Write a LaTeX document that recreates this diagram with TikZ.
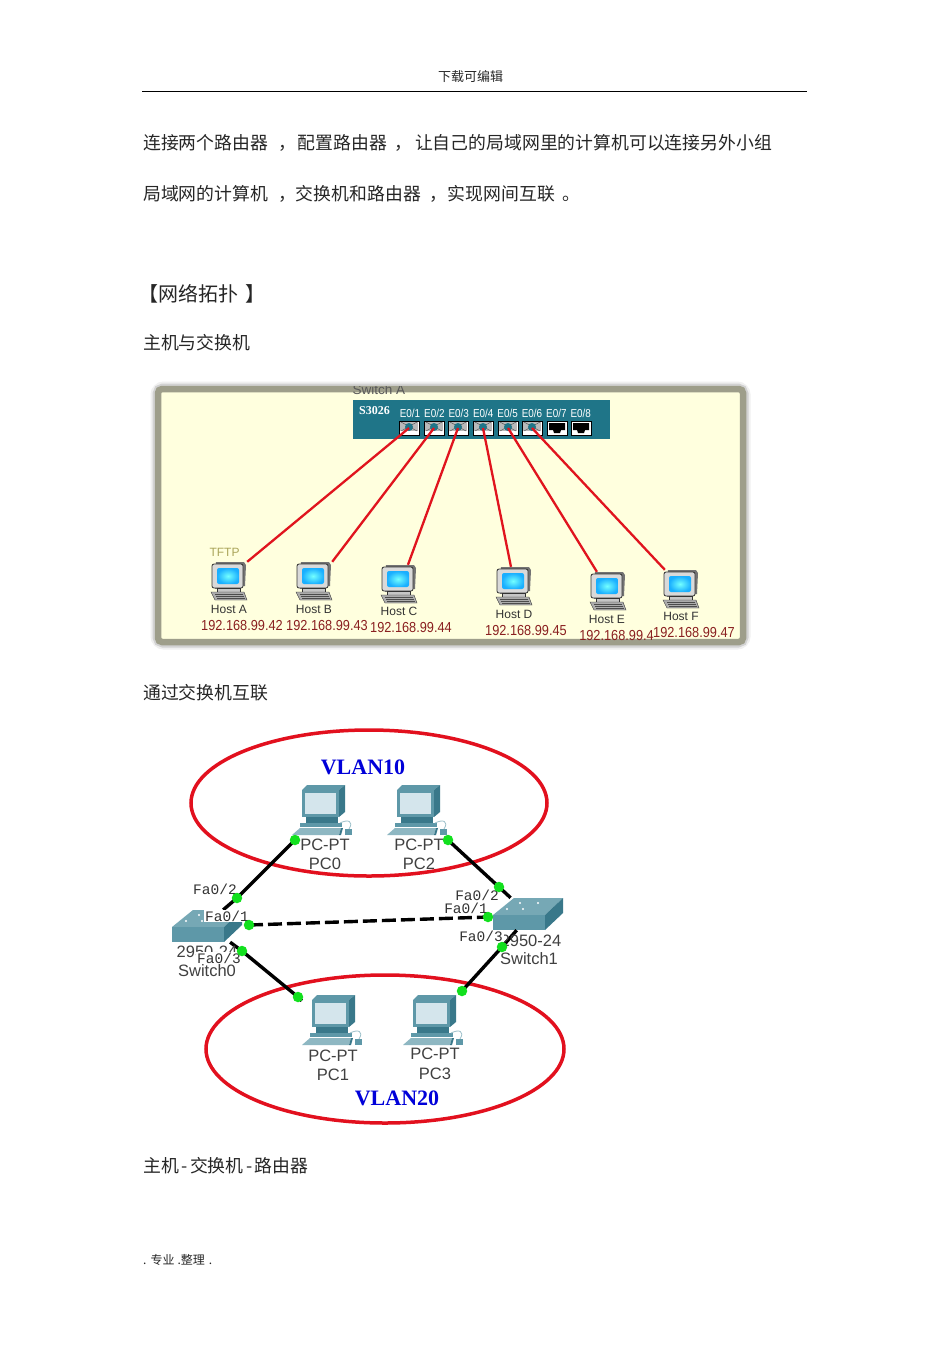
\documentclass[tikz,border=0pt]{standalone}
\usepackage{fontspec}
\setmainfont{Liberation Sans}
\newfontfamily\cjk{Noto Sans CJK SC}
\newfontfamily\labelmono{Liberation Mono}
\newfontfamily\vlanserif{Liberation Serif}
\usetikzlibrary{shapes.geometric}
\definecolor{ringRed}{HTML}{E2101E}
\definecolor{linkRed}{HTML}{E0141E}
\definecolor{lampGreen}{HTML}{12E01E}
\definecolor{switchTeal}{HTML}{1F7588}
\definecolor{ipRed}{HTML}{8A2020}
\definecolor{paleYellow}{HTML}{FFFFDE}
\definecolor{ptTeal}{HTML}{5E98A8}
\definecolor{ptDark}{HTML}{39788A}
\definecolor{ptLight}{HTML}{D4E5EC}
\tikzstyle{myBody} = [anchor=west, inner sep=0pt, font=\cjk\fontsize{17.85}{18}\selectfont, text=black!85]
\tikzstyle{myPort} = [rectangle, draw=black, fill=white, minimum width=20pt, minimum height=14pt, inner sep=0pt]
\tikzstyle{myPortLabel} = [inner sep=0pt, text=white, transform shape, xscale=.86, font=\fontsize{11.5}{12}\selectfont]
\tikzstyle{myHostBox} = [rectangle, minimum width=36pt, minimum height=38pt, inner sep=0pt]
\tikzstyle{myHostName} = [inner sep=0pt, text=black!80, font=\fontsize{12}{12}\selectfont]
\tikzstyle{myIp} = [inner sep=0pt, text=ipRed, transform shape, xscale=.88, font=\fontsize{14.5}{15}\selectfont]
\tikzstyle{myLink} = [linkRed, line width=2.3pt]
\tikzstyle{myRing} = [ellipse, draw=ringRed, line width=3.5pt, inner sep=0pt]
\tikzstyle{myVlan} = [inner sep=0pt, text=blue!85!black, font=\vlanserif\bfseries\fontsize{22}{22}\selectfont]
\tikzstyle{myPcBox} = [rectangle, minimum width=62pt, minimum height=52pt, inner sep=0pt]
\tikzstyle{myPcText} = [inner sep=0pt, text=black!75, font=\fontsize{16.5}{17}\selectfont]
\tikzstyle{myTag} = [inner sep=1pt, text=black!80, font=\labelmono\fontsize{14.5}{15}\selectfont]
\tikzstyle{myLamp} = [circle, fill=lampGreen, minimum size=10.5pt, inner sep=0pt]
\tikzstyle{myCable} = [black, line width=3.4pt]
\newcommand{\usedport}[2]{
	\node [myPort](#1) at (#2,428){};
	\fill [gray!55] (#2-9,422) rectangle (#2+9,431);
	\draw [black!70] (#2-8,422) -- (#2+8,431) (#2-8,431) -- (#2+8,422);
	\fill [switchTeal] (#2,427) circle (4pt);
}
\newcommand{\freeport}[2]{
	\node [myPort](#1) at (#2,428){};
	\fill [black] (#2-8,423) -- (#2+8,423) -- (#2+8,430) -- (#2+4,430) -- (#2+3,433) -- (#2-3,433) -- (#2-4,430) -- (#2-8,430) -- cycle;
}
\newcommand{\hostpc}[3]{
	\node [myHostBox](#1) at (#2,#3){};
	\begin{scope}[shift={(#2,#3)}]
		\fill [black!55] (-13,-19) -- (15,-19) -- (17,-16) -- (16,5) -- (-14,8) -- cycle;
		\draw [black!80, fill=gray!30, rounded corners=2pt, line width=.8pt] (-17,-17) rectangle (14,7);
		\shade [inner color=cyan!55, outer color=blue!35!cyan!90, rounded corners=2pt] (-12,-13) rectangle (10,3);
		\draw [black!80, fill=gray!45] (-12,7) rectangle (11,11);
		\draw [black!80, fill=gray!65] (-18,11) -- (15,11) -- (18,19) -- (-14,19) -- cycle;
		\draw [black!70] (-14,13) -- (14,13) (-13,15) -- (15,15) (-12,17) -- (16,17);
	\end{scope}
}
\newcommand{\ptpc}[3]{
	\node [myPcBox](#1) at (#2,#3){};
	\begin{scope}[shift={(#2-31,#3-26)}]
		\fill [ptTeal] (10,5) -- (15,0) -- (53,0) -- (47,5) -- cycle;
		\fill [ptDark] (47,5) -- (53,0) -- (53,27) -- (47,32) -- cycle;
		\fill [ptTeal] (10,5) rectangle (47,32);
		\fill [ptLight] (13,8) rectangle (44,29);
		\fill [ptDark] (14,32) rectangle (46,38);
		\fill [ptTeal] (8,38) rectangle (50,42);
		\fill [ptTeal!70] (0,50) -- (8,43) -- (49,43) -- (47,50) -- cycle;
		\fill [ptDark] (47,50) -- (49,43) -- (51,43) -- (49,50) -- cycle;
		\fill [ptTeal] (53,44) rectangle (60,50);
		\draw [ptTeal!60, line width=.8pt] (48,38) .. controls (56,34) and (62,36) .. (57,44);
	\end{scope}
}
\newcommand{\ptswitch}[3]{
	\node [rectangle, minimum width=70pt, minimum height=32pt, inner sep=0pt](#1) at (#2,#3){};
	\begin{scope}[shift={(#2-35,#3-16)}]
		\fill [ptTeal!85] (0,17) -- (21,0) -- (70,0) -- (52,17) -- cycle;
		\fill [ptTeal] (0,17) rectangle (52,32);
		\fill [ptDark] (52,17) -- (70,0) -- (70,15) -- (52,32) -- cycle;
		\fill [white] (14,11) circle (1.2pt) (30,11) circle (1.2pt) (27,5) circle (1.2pt) (45,5) circle (1.2pt);
	\end{scope}
}

\begin{document}
\begin{tikzpicture}[x=1pt,y=-1pt]
		\useasboundingbox (0,0) rectangle (950,1345);
		\fill [white] (0,0) rectangle (950,1345);
		% page text
		\node [inner sep=0pt, text=black!85, font=\cjk\fontsize{13}{13}\selectfont](pagehead) at (470.5,76.5){下载可编辑};
		\draw [black, line width=.7pt] (142,91.5) -- (807,91.5);
		\node [myBody](line1) at (143,143){连接两个路由器\hspace{10pt}，\hspace{2pt}配置路由器\hspace{7pt}，\hspace{3pt}让自己的局域网里的计算机可以连接另外小组};
		\node [myBody](line2) at (143,194){局域网的计算机\hspace{10pt}，交换机和路由器\hspace{9pt}，实现网间互联\hspace{8pt}。};
		\node [myBody, font=\cjk\fontsize{20}{20}\selectfont](topotitle) at (138,294){【网络拓扑\hspace{7pt}】};
		\node [myBody](subtitle1) at (143,343){主机与交换机};
		\node [myBody](subtitle2) at (143,693){通过交换机互联};
		\node [myBody](subtitle3) at (143,1166){主机\hspace{2.5pt}-\hspace{2.5pt}交换机\hspace{2.5pt}-\hspace{2.5pt}路由器};
		\node [myBody, font=\cjk\fontsize{12}{12}\selectfont](pagefoot) at (143,1260){.\hspace{4pt}专业\hspace{3pt}.整理\hspace{4pt}.};

		% first picture
		\draw [gray!12, line width=15pt, rounded corners=6pt] (158,389) rectangle (743,642);
		\draw [gray!35, line width=11pt, rounded corners=5pt] (158,389) rectangle (743,642);
		\draw [black!38!paleYellow, line width=6.5pt, fill=paleYellow, rounded corners=4pt] (158,389) rectangle (743,642);
		\begin{scope}
			\clip (340,386) rectangle (420,399);
			\node [inner sep=0pt, text=black!65, font=\fontsize{13.5}{14}\selectfont](switchname) at (379,389.5){Switch A};
		\end{scope}
		\node [rectangle, fill=switchTeal, minimum width=257pt, minimum height=39pt, inner sep=0pt](s3026) at (481.5,419.5){};
		\node [inner sep=0pt, text=white, font=\vlanserif\bfseries\fontsize{12}{12}\selectfont](s3026name) at (374.5,411){S3026};
		\node [myPortLabel](e1) at (410,413){E0/1};
		\node [myPortLabel](e2) at (434.4,413){E0/2};
		\node [myPortLabel](e3) at (458.8,413){E0/3};
		\node [myPortLabel](e4) at (483.2,413){E0/4};
		\node [myPortLabel](e5) at (507.6,413){E0/5};
		\node [myPortLabel](e6) at (532,413){E0/6};
		\node [myPortLabel](e7) at (556.4,413){E0/7};
		\node [myPortLabel](e8) at (580.8,413){E0/8};
		\usedport{p1}{409}
		\usedport{p2}{434}
		\usedport{p3}{458}
		\usedport{p4}{483}
		\usedport{p5}{508}
		\usedport{p6}{532}
		\freeport{p7}{557}
		\freeport{p8}{581}
		\hostpc{hostA}{229}{581}
		\hostpc{hostB}{314}{581}
		\hostpc{hostC}{399}{584}
		\hostpc{hostD}{514}{586}
		\hostpc{hostE}{608}{591}
		\hostpc{hostF}{681}{589}
		\draw [myLink] (p1.center) -- (hostA.north east);
		\draw [myLink] (p2.center) -- (hostB.north east);
		\draw [myLink] (p3.center) -- (hostC.65);
		\draw [myLink] (p4.center) -- (hostD.99);
		\draw [myLink] (p5.center) -- (hostE.120);
		\draw [myLink] (p6.center) -- (hostF.130);
		\node [inner sep=0pt, text=yellow!55!black!85, font=\fontsize{12}{12}\selectfont](tftp) at (224.5,552){TFTP};
		\node [myHostName](nameA) at (229,609){Host A};
		\node [myHostName](nameB) at (314,609){Host B};
		\node [myHostName](nameC) at (399,611){Host C};
		\node [myHostName](nameD) at (514,614){Host D};
		\node [myHostName](nameE) at (607,619){Host E};
		\node [myHostName](nameF) at (681,616){Host F};
		\node [myIp](ipA) at (242,625){192.168.99.42};
		\node [myIp](ipB) at (327,625){192.168.99.43};
		\node [myIp](ipC) at (411,627){192.168.99.44};
		\node [myIp](ipD) at (526,630){192.168.99.45};
		\node [myIp](ipE) at (616.5,635){192.168.99.4};
		\node [myIp](ipF) at (694,632){192.168.99.47};

		% second picture
		\node [myRing,minimum width=356pt,minimum height=146pt](vlanA) at (369,803){};
		\node [myRing,minimum width=358pt,minimum height=148pt](vlanB) at (385,1049){};
		\node [myVlan](vlanAname) at (363,767){VLAN10};
		\node [myVlan](vlanBname) at (397,1098){VLAN20};
		\ptpc{pc0}{323}{811}
		\ptpc{pc2}{418}{811}
		\ptpc{pc1}{333}{1021}
		\ptpc{pc3}{434}{1021}
		\ptswitch{sw0}{207}{926}
		\ptswitch{sw1}{528}{914}
		\coordinate (c0a) at (295,840);
		\coordinate (c0b) at (237,898);
		\coordinate (c2a) at (448,840);
		\coordinate (c2b) at (499,887);
		\coordinate (c1a) at (249,925);
		\coordinate (c1b) at (488,917);
		\coordinate (c3a) at (242,951);
		\coordinate (c3b) at (298,997);
		\coordinate (c4a) at (502,947);
		\coordinate (c4b) at (462,991);
		\draw [myCable] (c0a) -- (c0b) -- (sw0.45);
		\draw [myCable] (pc2.-44) -- (c2a) -- (c2b) -- (sw1.137);
		\draw [myCable] (sw0.-35) -- (c3a) -- (c3b) -- (pc1.147);
		\draw [myCable] (sw1.-125) -- (c4a) -- (c4b) -- (pc3.45);
		\node [myPcText](pc0type) at (325,845){PC-PT};
		\node [myPcText](pc0name) at (325,864){PC0};
		\node [myPcText](pc2type) at (419,845){PC-PT};
		\node [myPcText](pc2name) at (419,864){PC2};
		\node [myPcText](pc1type) at (333,1056){PC-PT};
		\node [myPcText](pc1name) at (333,1075){PC1};
		\node [myPcText](pc3type) at (435,1054){PC-PT};
		\node [myPcText](pc3name) at (435,1074){PC3};
		\node [myPcText](sw0type) at (207,952){2950-24};
		\node [myPcText](sw0name) at (207,971){Switch0};
		\node [myPcText](sw1type) at (531,941){2950-24};
		\node [myPcText](sw1name) at (529,959){Switch1};
		\node [myTag](tagA) at (215,889){Fa0/2};
		\node [myTag,fill=white](tagB) at (227,916){Fa0/1};
		\node [myTag,fill=white](tagC) at (219,958){Fa0/3};
		\node [myTag](tagD) at (477,895){Fa0/2};
		\node [myTag,fill=white](tagE) at (466,908){Fa0/1};
		\node [myTag,fill=white](tagF) at (481,936){Fa0/3};
		% trunk goes over the white tag edges
		\draw [myCable,dash pattern=on 14pt off 5pt] (c1a) -- (c1b) -- (sw1.west);
		\node [myLamp](l0a) at (c0a){};
		\node [myLamp](l0b) at (c0b){};
		\node [myLamp](l2a) at (c2a){};
		\node [myLamp](l2b) at (c2b){};
		\node [myLamp](l1a) at (c1a){};
		\node [myLamp](l1b) at (c1b){};
		\node [myLamp](l3a) at (c3a){};
		\node [myLamp](l3b) at (c3b){};
		\node [myLamp](l4a) at (c4a){};
		\node [myLamp](l4b) at (c4b){};
\end{tikzpicture}
\end{document}
